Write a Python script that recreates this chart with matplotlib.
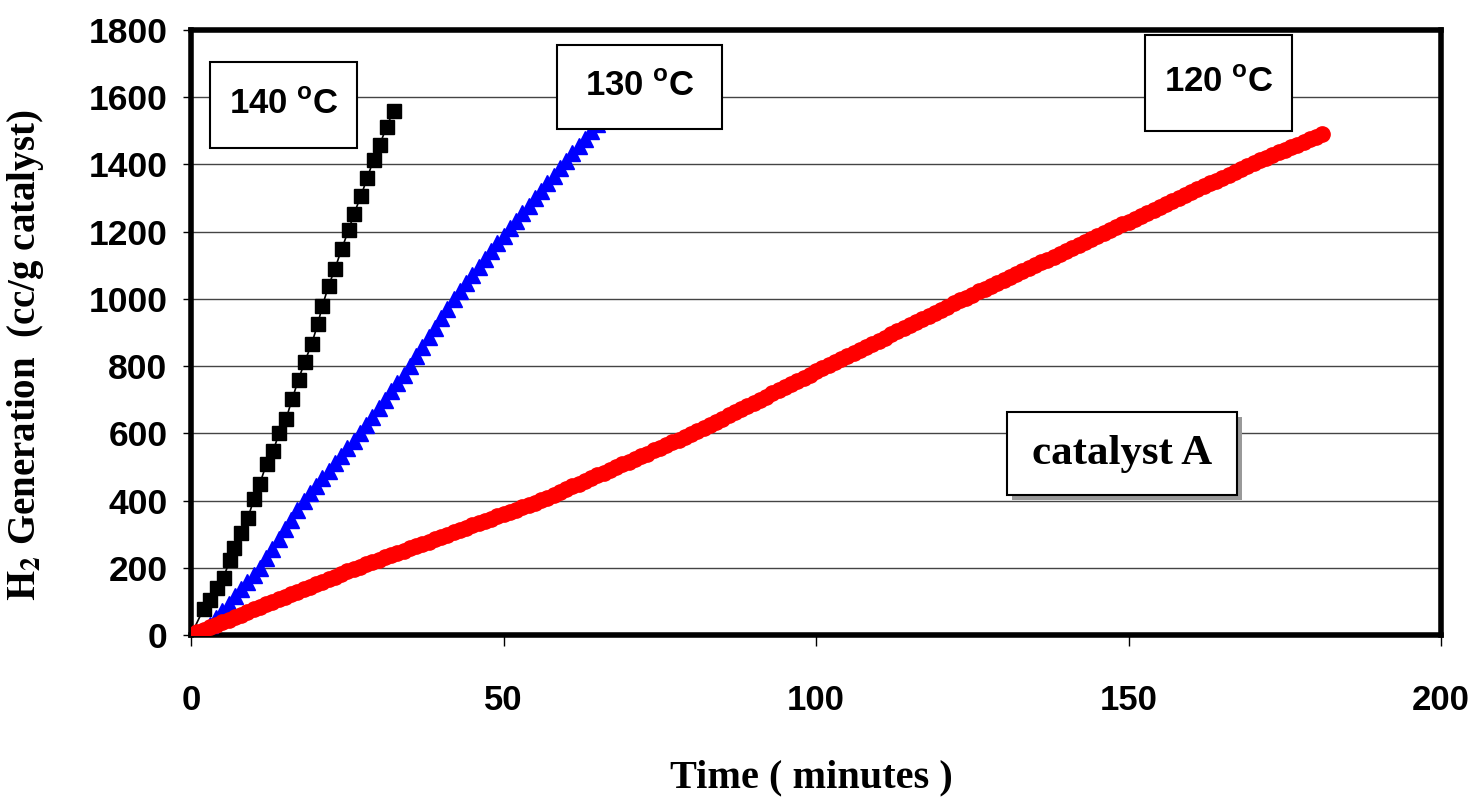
import numpy as np
import matplotlib
matplotlib.use('Agg')
import matplotlib.pyplot as plt
from matplotlib.patches import Rectangle

# fuentes: Arial / Times en el original
plt.rcParams['font.family'] = ['Liberation Sans', 'DejaVu Sans']
plt.rcParams['mathtext.fontset'] = 'custom'
plt.rcParams['mathtext.rm'] = 'Liberation Sans:bold'
plt.rcParams['mathtext.bf'] = 'Liberation Sans:bold'

# 140 C (cuadrados negros)
t_140 = [0, 2.0, 3.0, 4.1, 5.2, 6.2, 6.8, 8.0, 9.1, 10.1, 11.0, 12.1, 13.1, 14.1, 15.2, 16.2,
         17.2, 18.2, 19.3, 20.3, 21.0, 22.0, 23.0, 24.1, 25.2, 26.1, 27.2, 28.2, 29.2, 30.2,
         31.3, 32.4]
h2_140 = [0, 77, 103, 139, 170, 223, 259, 304, 349, 405, 450, 510, 546, 600, 642, 703,
          760, 813, 866, 926, 978, 1038, 1088, 1148, 1204, 1254, 1307, 1360, 1414, 1459,
          1512, 1560]

# 130 C (triangulos azules), una lectura por minuto
t_130 = np.arange(1, 67)
h2_130 = [0, 10, 30, 50, 72, 93, 115, 136, 158, 180, 200,
          228, 257, 286, 314, 343, 372, 400,
          422, 444, 467, 489, 511, 533, 556, 578, 600,
          625, 650, 675, 700, 725, 750, 775, 800,
          829, 857, 886, 914, 943, 971, 1000,
          1024, 1047, 1071, 1094, 1118, 1141, 1165, 1188,
          1211, 1233, 1255, 1277, 1300, 1322, 1344, 1366, 1389, 1411, 1433, 1455, 1477,
          1499, 1521, 1543]

# 120 C (circulos rojos), una lectura por minuto
t_120 = np.arange(0, 182)
h2_120 = [0, 8, 15, 23, 30, 38, 45, 53, 60, 68, 76, 83, 91, 98, 106, 113, 121, 128, 136,
          143, 151, 159, 166, 174, 181, 189, 196,
          203, 210, 217, 224, 231, 237, 244, 251, 258, 265, 271, 278, 285, 292, 299, 305,
          312, 319, 326, 333, 339, 346, 353, 360, 367, 373, 380, 387, 394, 401,
          409, 417, 426, 434, 442, 450, 458, 467, 475, 483, 491, 499, 508, 516, 524, 532,
          540, 549, 557, 565, 573, 581, 590, 598,
          607, 616, 626, 635, 644, 654, 663, 672, 681, 691, 700, 709, 719, 728, 737, 747,
          756, 765, 774, 784, 793, 803,
          812, 821, 830, 839, 849, 858, 867, 876, 885, 895, 904, 913, 922, 931, 941, 950,
          959, 968, 977, 987, 996,
          1004, 1013, 1022, 1030, 1039, 1048, 1056, 1065, 1074, 1083, 1091, 1100, 1109,
          1117, 1126, 1135, 1143, 1152, 1161, 1170, 1178, 1187, 1196, 1204, 1213, 1222,
          1230, 1239, 1248, 1257, 1265, 1274, 1283, 1291, 1300, 1309, 1317, 1326, 1335,
          1344, 1352, 1361, 1370, 1378, 1387, 1396,
          1404, 1412, 1420, 1428, 1436, 1444, 1451, 1459, 1467, 1475, 1483, 1491]

x_ticks = [0, 50, 100, 150, 200]
y_ticks = list(range(0, 1801, 200))

W, H = 1477, 801
fig = plt.figure(figsize=(W / 100, H / 100), dpi=100)
ax = fig.add_axes([191 / W, 1 - 635 / H, (1441 - 191) / W, (635 - 30) / H])

ax.plot(t_140, h2_140, '-s', color='black', markersize=10, linewidth=1.2, zorder=3)
ax.plot(t_130, h2_130, '-^', color='blue', markersize=11, linewidth=1.2, zorder=3)
ax.plot(t_120, h2_120, '-o', color='red', markersize=11, linewidth=1.5, zorder=3)

ax.set_xlim(0, 200)
ax.set_ylim(0, 1800)
ax.set_xticks(x_ticks)
ax.set_yticks(y_ticks)
ax.yaxis.grid(True, color='#444444', linewidth=1.0)
ax.set_axisbelow(True)
for s in ax.spines.values():
    s.set_linewidth(4)
ax.tick_params(axis='x', direction='out', length=8, width=1, pad=27)
ax.tick_params(axis='y', direction='out', length=6, width=1, pad=11)
for lab in ax.get_xticklabels():
    lab.set_fontsize(25)
    lab.set_fontweight('bold')
for lab in ax.get_yticklabels():
    lab.set_fontsize(25.5)
    lab.set_fontweight('bold')

# titulos de ejes
fig.text(811 / W, 1 - 778 / H, 'Time ( minutes )', ha='center', va='center',
         family=['Liberation Serif'], fontweight='bold', fontsize=29)
fig.text(26 / W, 1 - 355 / H, r'$\mathbf{H_2}$ Generation  (cc/g catalyst)', rotation=90,
         ha='center', va='center', family=['Liberation Serif'], fontweight='bold',
         fontsize=28, math_fontfamily='stix')

# cajas de etiquetas
def caja(x0, y0, x1, y1, texto, fam, size, sombra=False):
    if sombra:
        fig.add_artist(Rectangle((x0 / W + 5 / W, 1 - y1 / H - 5 / H), (x1 - x0) / W,
                                 (y1 - y0) / H, transform=fig.transFigure,
                                 facecolor='#999999', edgecolor='none', zorder=4))
    fig.add_artist(Rectangle((x0 / W, 1 - y1 / H), (x1 - x0) / W, (y1 - y0) / H,
                             transform=fig.transFigure, facecolor='white',
                             edgecolor='black', linewidth=1.5, zorder=5))
    fig.text((x0 + x1) / 2 / W, 1 - (y0 + y1) / 2 / H, texto, ha='center', va='center',
             family=fam, fontweight='bold', fontsize=size, zorder=6)

etiq = ['Liberation Sans']
caja(210, 62, 357, 148, r'140 $^{\mathbf{o}}$C', etiq, 25)
caja(557, 45, 722, 129, r'130 $^{\mathbf{o}}$C', etiq, 25)
caja(1145, 35, 1292, 131, r'120 $^{\mathbf{o}}$C', etiq, 25)
caja(1007, 412, 1237, 495, 'catalyst A', ['Liberation Serif'], 31, sombra=True)

fig.savefig('out.png', dpi=100)
